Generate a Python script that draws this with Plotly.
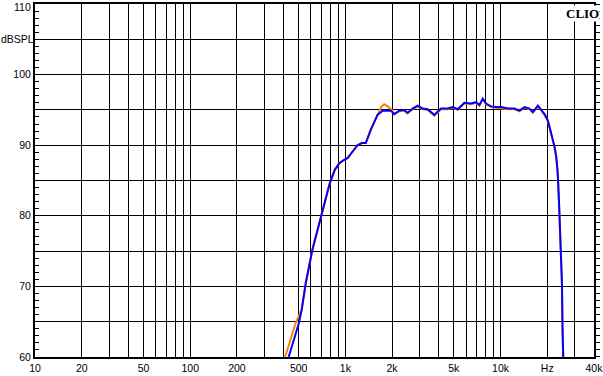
import math
import plotly.graph_objects as go

# ---- data ----
freq_blue = [431, 502, 523, 555, 613, 701, 793, 854, 911, 977, 1036, 1095, 1128, 1197, 1276,
             1354, 1459, 1612, 1737, 1965, 2064, 2223, 2394, 2518, 2714, 2923, 3149, 3392, 3741,
             4133, 4566, 4920, 5300, 5847, 6459, 6958, 7309, 7688, 8072, 8698, 9368, 10090,
             11150, 12295, 13250, 14270, 15375, 16170, 17415, 18295, 19215, 20210, 21230, 21770,
             22290, 22870, 23380, 23800, 24010, 24370, 24890, 25110, 25370]
spl_blue = [60, 64.8, 66.7, 70.4, 75.2, 79.9, 84.6, 86.5, 87.4, 87.9, 88.2, 88.9, 89.3, 90.0, 90.3,
            90.3, 92.2, 94.3, 94.9, 94.9, 94.4, 94.9, 95.0, 94.6, 95.2, 95.6, 95.2, 95.1, 94.3,
            95.2, 95.2, 95.4, 95.1, 96.0, 95.9, 96.1, 95.7, 96.6, 95.9, 95.5, 95.4, 95.4,
            95.2, 95.2, 94.9, 95.4, 95.2, 94.7, 95.6, 95.0, 94.4, 93.5, 91.7, 90.7,
            89.8, 88.4, 86.0, 82.2, 79.9, 75.2, 70.4, 63.8, 60]

freq_orange = [409, 478, 523, 555, 613, 701, 793, 854, 911, 977, 1036, 1095, 1128, 1197, 1276,
               1354, 1459, 1612, 1700, 1778, 1879, 1994, 2064, 2223, 2394, 2518, 2714, 2923, 3149,
               3392, 3741, 4133, 4566, 4920, 5300, 5847, 6459, 6958, 7309, 7688, 8072, 8698, 9368,
               10090, 11150, 12295, 13250, 14270, 15375, 16170, 17415, 18295, 19215, 20210, 21230,
               21770, 22290, 22870, 23380, 23800, 24010, 24370, 24890, 25110, 25370]
spl_orange = [60, 64.8, 66.7, 70.4, 75.2, 79.9, 84.6, 86.5, 87.4, 87.9, 88.2, 88.9, 89.3, 90.0, 90.3,
              90.3, 92.2, 94.4, 95.4, 95.8, 95.5, 95.0, 94.4, 94.8, 94.9, 94.5, 95.1, 95.5, 95.1,
              95.0, 94.2, 95.1, 95.1, 95.3, 95.0, 95.9, 95.8, 96.0, 95.6, 96.5, 95.8, 95.4, 95.3,
              95.3, 95.1, 95.1, 94.8, 95.3, 95.1, 94.6, 95.5, 94.9, 94.3, 93.4, 91.6,
              90.6, 89.7, 88.3, 85.9, 82.1, 79.8, 74.5, 70.3, 63.7, 60]

x_tick_vals = [10, 20, 50, 100, 200, 500, 1000, 2000, 5000, 10000, 20000, 40000]
x_tick_text = ["10", "20", "50", "100", "200", "500", "1k", "2k", "5k", "10k", "Hz", "40k"]
x_grid_minor = [30, 40, 60, 70, 80, 90, 300, 400, 600, 700, 800, 900,
                3000, 4000, 6000, 7000, 8000, 9000, 30000]
y_tick_vals = [60, 65, 70, 75, 80, 85, 90, 95, 100, 105, 110]
y_tick_text = ["60", "", "70", "", "80", "", "90", "", "100", "", ""]
y_unit_label = "dBSPL"
y_unit_pos = 105
y_top_label = "110"

FONT = "Liberation Sans, Arial, sans-serif"

fig = go.Figure()
fig.add_trace(go.Scatter(x=freq_orange, y=spl_orange, mode="lines",
                         line=dict(color="#ff8000", width=2), yaxis="y"))
fig.add_trace(go.Scatter(x=freq_blue, y=spl_blue, mode="lines",
                         line=dict(color="#0000ff", width=2), yaxis="y2"))

fig.update_layout(
    width=603, height=376,
    margin=dict(l=35, r=9, t=4, b=19),
    plot_bgcolor="white", paper_bgcolor="white",
    showlegend=False,
    font=dict(family=FONT, size=10.5, color="black"),
    xaxis=dict(type="log", range=[1 - 0.0005, math.log10(40000) + 0.0005],
               tickmode="array", tickvals=x_tick_vals, ticktext=x_tick_text,
               showgrid=True, gridcolor="black", gridwidth=1.3,
               showline=True, linecolor="black", linewidth=2, mirror=True,
               ticks="", zeroline=False, automargin=False, ticklabeloverflow="allow",
               minor=dict(tickmode="array", tickvals=x_grid_minor, showgrid=True,
                          gridcolor="black", gridwidth=1.3, ticks="")),
    yaxis=dict(range=[60 - 0.01, 110 + 0.01], tickmode="array", tickvals=y_tick_vals,
               ticktext=y_tick_text,
               showgrid=True, gridcolor="black", gridwidth=1.3,
               showline=True, linecolor="black", linewidth=2, mirror=True,
               ticks="inside", ticklen=4, tickcolor="black", zeroline=False,
               automargin=False, ticklabeloverflow="allow",
               minor=dict(tickmode="linear", tick0=60, dtick=1, ticks="inside", ticklen=4,
                          tickcolor="black", showgrid=False)),
    yaxis2=dict(range=[60 - 0.01, 110 + 0.01], overlaying="y", side="right", showgrid=False,
                showticklabels=False, showline=False, zeroline=False, automargin=False,
                ticks="outside", ticklen=5, tickcolor="black",
                tickmode="array", tickvals=y_tick_vals,
                minor=dict(tickmode="linear", tick0=60, dtick=1, ticks="outside", ticklen=5,
                           tickcolor="black", showgrid=False)),
)

# unit label and top tick label, kept inside the picture
fig.add_annotation(text=y_unit_label, xref="paper", yref="y", x=-35 / 559, y=y_unit_pos,
                   xanchor="left", yanchor="middle", showarrow=False,
                   font=dict(family=FONT, size=10.5, color="black"), borderpad=0)
fig.add_annotation(text=y_top_label, xref="paper", yref="paper", x=-3 / 559, y=1 + 4 / 353,
                   xanchor="right", yanchor="top", showarrow=False,
                   font=dict(family=FONT, size=10.5, color="black"), borderpad=0)

fig.add_annotation(text="<b>CLIO</b>", xref="paper", yref="paper", x=1.011, y=0.998,
                   xanchor="right", yanchor="top", showarrow=False,
                   font=dict(family="Liberation Serif, serif", size=13, color="black"),
                   bgcolor="white", borderpad=0)

fig.write_html("out.html")
